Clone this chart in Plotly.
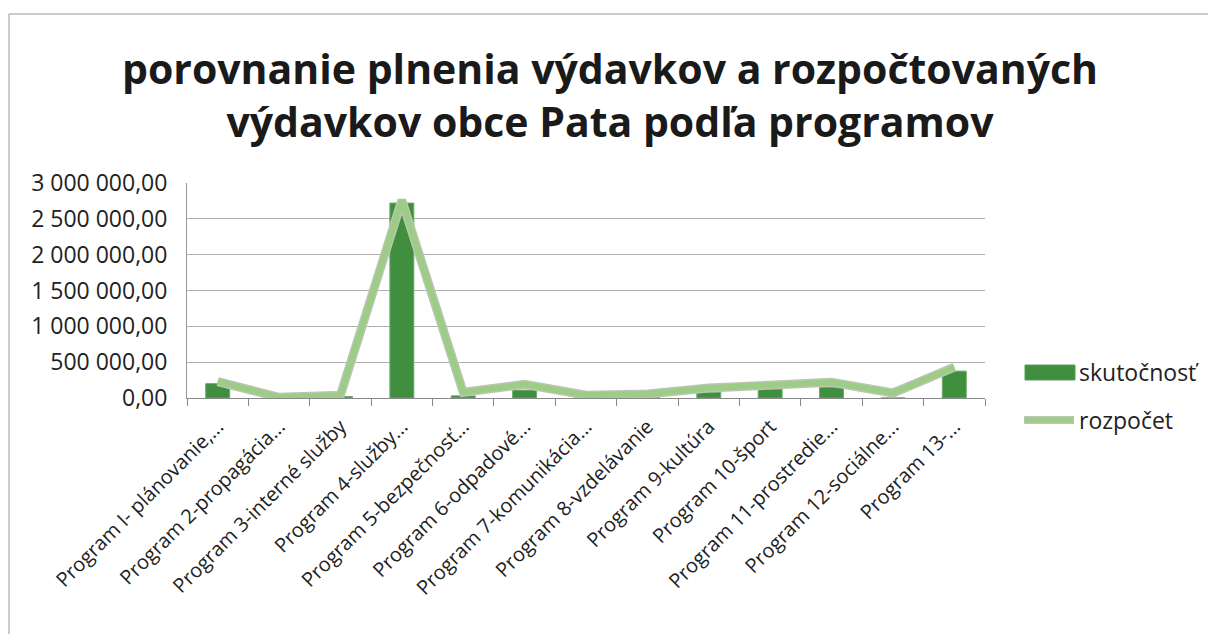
import plotly.graph_objects as go

categories = [
    "Program I- plánovanie,...",
    "Program 2-propagácia...",
    "Program 3-interné služby",
    "Program 4-služby...",
    "Program 5-bezpečnosť...",
    "Program 6-odpadové...",
    "Program 7-komunikácia...",
    "Program 8-vzdelávanie",
    "Program 9-kultúra",
    "Program 10-šport",
    "Program 11-prostredie...",
    "Program 12-sociálne...",
    "Program 13-...",
]
skutocnost = [200000, 5000, 20000, 2720000, 30000, 110000, 0, 10000, 80000, 125000, 150000, 0, 375000]
rozpocet = [230000, 10000, 40000, 2760000, 80000, 190000, 40000, 55000, 140000, 180000, 220000, 70000, 430000]
y_ticks = [0, 500000, 1000000, 1500000, 2000000, 2500000, 3000000]
series_names = ["skutočnosť", "rozpočet"]

font = "Open Sans, Noto Sans, DejaVu Sans, sans-serif"
bar_color = "#3f8f3f"
line_color = "#9ccc85"

# page offset (default body margin) and figure size so that the page is 1216x642
OFF = 8
W, H = 1216 - 2 * OFF, 642 - 2 * OFF
# plot area in page pixels
L, R, T, B = 187 - OFF, 985 - OFF, 183 - OFF, 398 - OFF
pw, ph = R - L, B - T


def px(x):
    return (x - OFF - L) / pw


def py(y):
    return (B - (y - OFF)) / ph


fig = go.Figure()
fig.add_trace(go.Bar(
    x=categories, y=skutocnost, name=series_names[0], showlegend=False,
    marker=dict(color=bar_color, line=dict(color="#6aa86a", width=1)),
))
fig.add_trace(go.Scatter(
    x=categories, y=rozpocet, mode="lines", showlegend=False, hoverinfo="skip",
    line=dict(color="#b9c7b2", width=9),
))
fig.add_trace(go.Scatter(
    x=categories, y=rozpocet, mode="lines", name=series_names[1], showlegend=False,
    line=dict(color=line_color, width=6),
))

shapes = [
    dict(type="rect", xref="paper", yref="paper",
         x0=px(9), x1=px(1240), y0=py(680), y1=py(14),
         line=dict(color="#9a9a9a", width=1), fillcolor="rgba(0,0,0,0)", layer="below"),
    # legend symbols
    dict(type="rect", xref="paper", yref="paper",
         x0=px(1025), x1=px(1075), y0=py(380), y1=py(365),
         line=dict(color="#5a9e5a", width=1), fillcolor=bar_color),
    dict(type="line", xref="paper", yref="paper",
         x0=px(1024), x1=px(1074), y0=py(420), y1=py(420),
         line=dict(color="#b9c7b2", width=8)),
    dict(type="line", xref="paper", yref="paper",
         x0=px(1025), x1=px(1073), y0=py(420), y1=py(420),
         line=dict(color=line_color, width=5)),
]
annotations = [
    dict(text=series_names[0], xref="paper", yref="paper", x=px(1077), y=py(372),
         xanchor="left", yanchor="middle", showarrow=False,
         font=dict(size=23, family=font, color="#222222")),
    dict(text=series_names[1], xref="paper", yref="paper", x=px(1077), y=py(420),
         xanchor="left", yanchor="middle", showarrow=False,
         font=dict(size=23, family=font, color="#222222")),
]

fig.update_layout(
    width=W, height=H,
    margin=dict(l=L, r=W - R, t=T, b=H - B, autoexpand=False),
    paper_bgcolor="white", plot_bgcolor="white",
    separators=", ",
    bargap=0.61,
    font=dict(family=font, color="#222222"),
    showlegend=False,
    title=dict(
        text="<b>porovnanie plnenia výdavkov a rozpočtovaných<br>výdavkov obce Pata podľa programov</b>",
        x=(610 - OFF) / W, xanchor="center", y=1 - (84 - OFF) / H, yanchor="middle",
        font=dict(size=41, family=font, color="#1a1a1a"),
    ),
    xaxis=dict(
        type="category", tickangle=-45, tickson="boundaries",
        ticks="outside", ticklen=7, tickcolor="#888888",
        showline=True, linecolor="#888888", linewidth=1,
        tickfont=dict(size=20, family=font, color="#222222"),
        ticklabelstandoff=8,
        showgrid=False, automargin=False,
    ),
    yaxis=dict(
        range=[0, 3000000], tickvals=y_ticks, tickformat=",.2f",
        showgrid=True, gridcolor="#b0b0b0", gridwidth=1,
        showline=True, linecolor="#999999", linewidth=1,
        ticks="", tickfont=dict(size=23, family=font, color="#222222"),
        ticklabelstandoff=14,
        zeroline=False, automargin=False,
    ),
    shapes=shapes,
    annotations=annotations,
)

fig.write_html("out.html")
